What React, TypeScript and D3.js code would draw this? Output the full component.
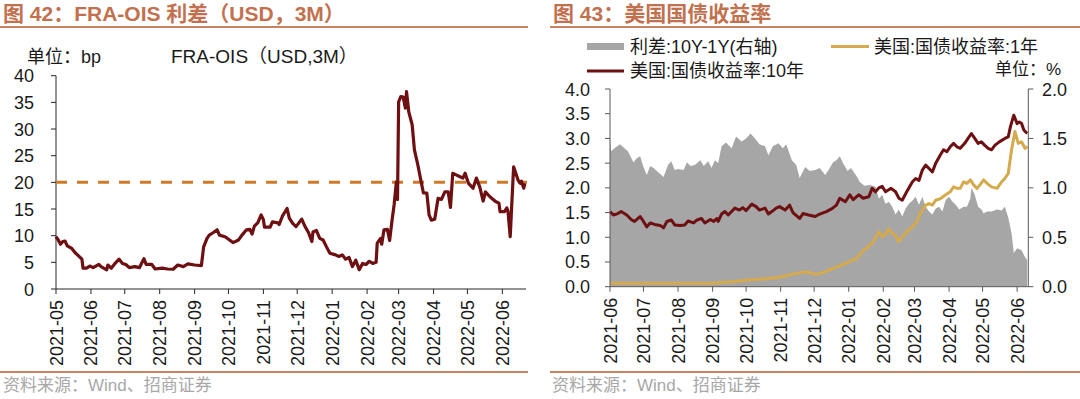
import React, { useEffect, useRef } from 'react'
import * as d3 from 'd3'

// FRA-OIS spread (bp)
const fraOis: [string, number][] = [
  ['2021-05-01', 9.8], ['2021-05-03', 9.2], ['2021-05-05', 8.4], ['2021-05-07', 8.9], ['2021-05-09', 9.0],
  ['2021-05-11', 8.1], ['2021-05-15', 7.6], ['2021-05-18', 6.8], ['2021-05-21', 6.2], ['2021-05-24', 5.6],
  ['2021-05-25', 3.9], ['2021-05-28', 3.9], ['2021-05-31', 4.3], ['2021-06-03', 4.0], ['2021-06-08', 4.6],
  ['2021-06-10', 4.2], ['2021-06-15', 3.6], ['2021-06-16', 4.5], ['2021-06-19', 3.9], ['2021-06-22', 4.7],
  ['2021-06-26', 5.6], ['2021-06-29', 4.8], ['2021-07-02', 4.6], ['2021-07-05', 4.0], ['2021-07-10', 4.2],
  ['2021-07-14', 4.0], ['2021-07-18', 5.7], ['2021-07-20', 4.6], ['2021-07-25', 4.6], ['2021-07-28', 3.75],
  ['2021-08-03', 3.9], ['2021-08-08', 3.75], ['2021-08-13', 3.7], ['2021-08-17', 4.5], ['2021-08-22', 4.2],
  ['2021-08-26', 4.7], ['2021-09-01', 4.5], ['2021-09-07', 4.4], ['2021-09-09', 7.9], ['2021-09-12', 9.5],
  ['2021-09-14', 10.1], ['2021-09-17', 10.5], ['2021-09-21', 11.1], ['2021-09-23', 10.1], ['2021-09-28', 9.8],
  ['2021-10-02', 9.2], ['2021-10-05', 8.7], ['2021-10-10', 9.2], ['2021-10-13', 10.1], ['2021-10-17', 11.1],
  ['2021-10-20', 11.2], ['2021-10-22', 10.3], ['2021-10-24', 11.8], ['2021-10-27', 12.4], ['2021-10-30', 13.9],
  ['2021-11-01', 13.0], ['2021-11-02', 11.6], ['2021-11-07', 11.6], ['2021-11-09', 12.6], ['2021-11-14', 12.4],
  ['2021-11-15', 12.1], ['2021-11-18', 13.7], ['2021-11-22', 15.1], ['2021-11-24', 13.3], ['2021-11-27', 12.3],
  ['2021-11-30', 11.7], ['2021-12-05', 13.1], ['2021-12-08', 11.7], ['2021-12-11', 10.6], ['2021-12-14', 8.9],
  ['2021-12-15', 10.7], ['2021-12-18', 11.0], ['2021-12-21', 9.5], ['2021-12-24', 9.2], ['2021-12-27', 7.9],
  ['2021-12-30', 6.7], ['2022-01-04', 6.4], ['2022-01-07', 6.1], ['2022-01-10', 6.4], ['2022-01-13', 5.6],
  ['2022-01-16', 5.9], ['2022-01-19', 4.2], ['2022-01-22', 5.4], ['2022-01-25', 3.6], ['2022-01-28', 4.8],
  ['2022-01-31', 4.6], ['2022-02-03', 5.2], ['2022-02-06', 4.8], ['2022-02-09', 5.0], ['2022-02-10', 8.6],
  ['2022-02-13', 9.5], ['2022-02-14', 8.4], ['2022-02-16', 11.1], ['2022-02-19', 11.2], ['2022-02-21', 9.1],
  ['2022-02-23', 12.6], ['2022-02-25', 15.8], ['2022-02-27', 20.1], ['2022-02-28', 16.8], ['2022-03-01', 35.1],
  ['2022-03-03', 36.1], ['2022-03-05', 36.0], ['2022-03-07', 33.9], ['2022-03-08', 37.0], ['2022-03-10', 33.2],
  ['2022-03-13', 30.8], ['2022-03-15', 26.1], ['2022-03-18', 23.3], ['2022-03-21', 20.1], ['2022-03-23', 18.0],
  ['2022-03-26', 18.0], ['2022-03-28', 13.9], ['2022-03-30', 12.9], ['2022-04-02', 13.1], ['2022-04-05', 17.0],
  ['2022-04-08', 16.8], ['2022-04-11', 18.2], ['2022-04-14', 18.2], ['2022-04-16', 15.3], ['2022-04-18', 21.7],
  ['2022-04-21', 21.4], ['2022-04-24', 21.1], ['2022-04-27', 20.8], ['2022-04-29', 21.7], ['2022-05-02', 19.8],
  ['2022-05-06', 18.9], ['2022-05-09', 20.8], ['2022-05-12', 19.1], ['2022-05-15', 16.5], ['2022-05-17', 18.2],
  ['2022-05-21', 17.3], ['2022-05-26', 16.4], ['2022-05-29', 16.1], ['2022-05-30', 14.5], ['2022-06-03', 14.5],
  ['2022-06-05', 15.2], ['2022-06-06', 14.6], ['2022-06-08', 9.8], ['2022-06-11', 22.9], ['2022-06-12', 22.3],
  ['2022-06-15', 20.4], ['2022-06-17', 19.8], ['2022-06-18', 20.2], ['2022-06-20', 18.9], ['2022-06-21', 19.8],
]

// US treasury 10Y yield (%)
const ust10y: [string, number][] = [
  ['2021-06-01', 1.52], ['2021-06-04', 1.45], ['2021-06-08', 1.48], ['2021-06-11', 1.52], ['2021-06-16', 1.45],
  ['2021-06-20', 1.36], ['2021-06-23', 1.32], ['2021-06-28', 1.42], ['2021-07-01', 1.32], ['2021-07-04', 1.21],
  ['2021-07-07', 1.29], ['2021-07-11', 1.26], ['2021-07-16', 1.24], ['2021-07-19', 1.19], ['2021-07-22', 1.32],
  ['2021-07-26', 1.35], ['2021-07-29', 1.25], ['2021-08-03', 1.24], ['2021-08-07', 1.25], ['2021-08-10', 1.33],
  ['2021-08-15', 1.29], ['2021-08-18', 1.35], ['2021-08-22', 1.38], ['2021-08-25', 1.29], ['2021-08-30', 1.36],
  ['2021-09-02', 1.32], ['2021-09-05', 1.38], ['2021-09-06', 1.32], ['2021-09-09', 1.47], ['2021-09-12', 1.52],
  ['2021-09-15', 1.45], ['2021-09-18', 1.52], ['2021-09-21', 1.59], ['2021-09-25', 1.55], ['2021-09-28', 1.60],
  ['2021-10-01', 1.54], ['2021-10-06', 1.67], ['2021-10-10', 1.62], ['2021-10-13', 1.55], ['2021-10-18', 1.59],
  ['2021-10-21', 1.47], ['2021-10-24', 1.52], ['2021-10-28', 1.59], ['2021-10-31', 1.62], ['2021-11-05', 1.55],
  ['2021-11-09', 1.65], ['2021-11-12', 1.50], ['2021-11-18', 1.38], ['2021-11-21', 1.48], ['2021-11-26', 1.45],
  ['2021-12-02', 1.42], ['2021-12-06', 1.47], ['2021-12-12', 1.52], ['2021-12-17', 1.58], ['2021-12-21', 1.65],
  ['2021-12-24', 1.79], ['2021-12-29', 1.72], ['2022-01-02', 1.86], ['2022-01-05', 1.76], ['2022-01-10', 1.86],
  ['2022-01-14', 1.79], ['2022-01-19', 1.82], ['2022-01-22', 1.99], ['2022-01-25', 1.92], ['2022-01-28', 2.00],
  ['2022-01-31', 2.03], ['2022-02-03', 1.92], ['2022-02-08', 1.99], ['2022-02-12', 1.92], ['2022-02-15', 1.79],
  ['2022-02-18', 1.75], ['2022-02-22', 1.92], ['2022-02-27', 2.12], ['2022-03-02', 2.19], ['2022-03-05', 2.15],
  ['2022-03-08', 2.36], ['2022-03-11', 2.46], ['2022-03-14', 2.39], ['2022-03-17', 2.32], ['2022-03-20', 2.50],
  ['2022-03-24', 2.66], ['2022-03-27', 2.77], ['2022-03-30', 2.73], ['2022-04-02', 2.83], ['2022-04-05', 2.90],
  ['2022-04-08', 2.83], ['2022-04-11', 2.80], ['2022-04-15', 2.90], ['2022-04-18', 3.00], ['2022-04-21', 3.10],
  ['2022-04-24', 3.00], ['2022-04-27', 2.90], ['2022-04-30', 2.93], ['2022-05-03', 2.86], ['2022-05-06', 2.80],
  ['2022-05-09', 2.77], ['2022-05-12', 2.86], ['2022-05-16', 2.93], ['2022-05-21', 3.00], ['2022-05-24', 3.03],
  ['2022-05-26', 3.24], ['2022-05-29', 3.47], ['2022-06-01', 3.30], ['2022-06-03', 3.33], ['2022-06-05', 3.30],
  ['2022-06-07', 3.17], ['2022-06-10', 3.10],
]

// US treasury 1Y yield (%)
const ust1y: [string, number][] = [
  ['2021-06-01', 0.07], ['2021-07-01', 0.07], ['2021-08-01', 0.07], ['2021-09-01', 0.07], ['2021-09-19', 0.10],
  ['2021-10-04', 0.14], ['2021-10-19', 0.16], ['2021-10-31', 0.19], ['2021-11-09', 0.24], ['2021-11-18', 0.28],
  ['2021-11-26', 0.30], ['2021-11-28', 0.27], ['2021-12-03', 0.25], ['2021-12-11', 0.30], ['2021-12-18', 0.37],
  ['2021-12-26', 0.44], ['2022-01-02', 0.51], ['2022-01-08', 0.57], ['2022-01-13', 0.71], ['2022-01-17', 0.78],
  ['2022-01-22', 0.88], ['2022-01-25', 0.98], ['2022-01-28', 1.11], ['2022-01-31', 1.01], ['2022-02-03', 1.07],
  ['2022-02-06', 1.17], ['2022-02-09', 1.07], ['2022-02-12', 1.04], ['2022-02-15', 0.91], ['2022-02-18', 1.01],
  ['2022-02-22', 1.11], ['2022-02-27', 1.21], ['2022-03-03', 1.31], ['2022-03-06', 1.48], ['2022-03-11', 1.65],
  ['2022-03-14', 1.68], ['2022-03-17', 1.65], ['2022-03-20', 1.75], ['2022-03-24', 1.78], ['2022-03-29', 1.86],
  ['2022-04-02', 1.92], ['2022-04-05', 2.02], ['2022-04-08', 1.99], ['2022-04-11', 1.99], ['2022-04-14', 2.12],
  ['2022-04-17', 2.09], ['2022-04-20', 2.16], ['2022-04-23', 2.06], ['2022-04-26', 1.99], ['2022-04-29', 2.07],
  ['2022-05-02', 2.16], ['2022-05-05', 2.09], ['2022-05-09', 2.02], ['2022-05-14', 1.99], ['2022-05-18', 2.12],
  ['2022-05-21', 2.19], ['2022-05-24', 2.29], ['2022-05-27', 2.77], ['2022-05-30', 3.14], ['2022-06-02', 2.90],
  ['2022-06-05', 2.93], ['2022-06-08', 2.80], ['2022-06-10', 2.84],
]

// spread 10Y-1Y (%, right axis)
const spread: [string, number][] = [
  ['2021-06-01', 1.50], ['2021-06-02', 1.37], ['2021-06-05', 1.40], ['2021-06-10', 1.44], ['2021-06-14', 1.40],
  ['2021-06-17', 1.37], ['2021-06-22', 1.26], ['2021-06-25', 1.30], ['2021-06-28', 1.32], ['2021-07-01', 1.21],
  ['2021-07-04', 1.13], ['2021-07-07', 1.22], ['2021-07-10', 1.20], ['2021-07-14', 1.16], ['2021-07-19', 1.11],
  ['2021-07-23', 1.23], ['2021-07-26', 1.27], ['2021-07-29', 1.18], ['2021-08-01', 1.19], ['2021-08-06', 1.18],
  ['2021-08-09', 1.26], ['2021-08-12', 1.22], ['2021-08-16', 1.23], ['2021-08-21', 1.28], ['2021-08-24', 1.22],
  ['2021-08-28', 1.27], ['2021-08-31', 1.20], ['2021-09-03', 1.28], ['2021-09-06', 1.25], ['2021-09-09', 1.42],
  ['2021-09-13', 1.46], ['2021-09-18', 1.40], ['2021-09-22', 1.52], ['2021-09-27', 1.47], ['2021-10-01', 1.50],
  ['2021-10-05', 1.55], ['2021-10-09', 1.50], ['2021-10-13', 1.44], ['2021-10-18', 1.42], ['2021-10-21', 1.33],
  ['2021-10-25', 1.42], ['2021-10-30', 1.45], ['2021-11-03', 1.40], ['2021-11-06', 1.44], ['2021-11-11', 1.28],
  ['2021-11-15', 1.23], ['2021-11-18', 1.10], ['2021-11-23', 1.21], ['2021-11-27', 1.17], ['2021-12-02', 1.18],
  ['2021-12-06', 1.20], ['2021-12-11', 1.13], ['2021-12-15', 1.20], ['2021-12-18', 1.26], ['2021-12-21', 1.28],
  ['2021-12-24', 1.32], ['2021-12-27', 1.25], ['2021-12-31', 1.17], ['2022-01-03', 1.20], ['2022-01-08', 1.12],
  ['2022-01-11', 1.06], ['2022-01-15', 1.02], ['2022-01-20', 1.03], ['2022-01-25', 1.01], ['2022-01-28', 0.89],
  ['2022-01-31', 0.93], ['2022-02-03', 0.84], ['2022-02-06', 0.86], ['2022-02-09', 0.81], ['2022-02-12', 0.73],
  ['2022-02-15', 0.78], ['2022-02-18', 0.71], ['2022-02-21', 0.79], ['2022-02-24', 0.84], ['2022-02-27', 0.87],
  ['2022-03-02', 0.91], ['2022-03-05', 0.83], ['2022-03-08', 0.91], ['2022-03-11', 0.81], ['2022-03-14', 0.76],
  ['2022-03-17', 0.73], ['2022-03-20', 0.79], ['2022-03-23', 0.81], ['2022-03-26', 0.76], ['2022-03-29', 0.88],
  ['2022-04-01', 0.91], ['2022-04-04', 0.86], ['2022-04-07', 0.83], ['2022-04-10', 0.78], ['2022-04-14', 0.81],
  ['2022-04-17', 0.81], ['2022-04-20', 0.89], ['2022-04-21', 1.00], ['2022-04-24', 0.93], ['2022-04-27', 0.81],
  ['2022-04-30', 0.78], ['2022-05-02', 0.74], ['2022-05-05', 0.76], ['2022-05-09', 0.76], ['2022-05-14', 0.78],
  ['2022-05-18', 0.77], ['2022-05-21', 0.81], ['2022-05-24', 0.70], ['2022-05-27', 0.54], ['2022-05-29', 0.34],
  ['2022-06-01', 0.39], ['2022-06-05', 0.37], ['2022-06-08', 0.30], ['2022-06-10', 0.27],
]

const fraTicks = [0, 5, 10, 15, 20, 25, 30, 35, 40]
const yieldTicks = [0, 0.5, 1, 1.5, 2, 2.5, 3, 3.5, 4]
const spreadTicks = [0, 0.5, 1, 1.5, 2]
const fraThreshold = 20

const FONT = '"Liberation Sans", Arial, "Noto Sans CJK SC", sans-serif'
const TITLE_COLOR = '#c2714f'
const RULE_COLOR = '#c98360'
const DARK_RED = '#6e0f12'
const GOLD = '#d5aa4c'
const GREY = '#a6a6a6'

const parse = d3.timeParse('%Y-%m-%d')

export default function App() {
  const svgRef = useRef<SVGSVGElement>(null)

  useEffect(() => {
    if (!svgRef.current) return
    const svg = d3.select(svgRef.current)
    svg.selectAll('*').remove()
    svg.style('font-family', FONT)

    const txt = (x: number, y: number, s: string, size: number, opts: any = {}) => {
      const t = svg.append('text')
        .attr('x', x).attr('y', y)
        .attr('font-size', size)
        .attr('fill', opts.fill || '#1a1a1a')
        .attr('text-anchor', opts.anchor || 'start')
        .text(s)
      if (opts.bold) t.attr('font-weight', 'bold')
      return t
    }

    // headers, rules, sources
    txt(3, 21, '图 42：FRA-OIS 利差（USD，3M）', 21, { fill: TITLE_COLOR, bold: true })
    txt(553, 21, '图 43：美国国债收益率', 21, { fill: TITLE_COLOR, bold: true })
    const rules: [number, number, number][] = [[0, 528, 27], [550, 1080, 27], [0, 528, 372], [550, 1080, 372]]
    rules.forEach(([x1, x2, y]) => {
      svg.append('line').attr('x1', x1).attr('x2', x2).attr('y1', y).attr('y2', y)
        .attr('stroke', RULE_COLOR).attr('stroke-width', 2)
    })
    txt(3, 391, '资料来源：Wind、招商证券', 17, { fill: '#a8a8a8' })
    txt(552, 391, '资料来源：Wind、招商证券', 17, { fill: '#a8a8a8' })

    const monthLabels = (x: d3.ScaleTime<number, number>, from: string, to: string, axisY: number, color: string) => {
      const months = d3.timeMonth.range(parse(from)!, parse(to)!)
      const fmt = d3.timeFormat('%Y-%m')
      months.forEach(m => {
        const px = x(m)
        svg.append('line').attr('x1', px).attr('x2', px).attr('y1', axisY).attr('y2', axisY + 5)
          .attr('stroke', color).attr('stroke-width', 1)
        svg.append('text')
          .attr('transform', `translate(${px + 6.5},${axisY + 11}) rotate(-90)`)
          .attr('text-anchor', 'end')
          .attr('font-size', 18)
          .attr('fill', '#1a1a1a')
          .text(fmt(m))
      })
    }

    // ---------- left: FRA-OIS ----------
    {
      const x = d3.scaleTime().domain([parse('2021-05-01')!, parse('2022-06-22')!]).range([56, 526])
      const y = d3.scaleLinear().domain([0, 40]).range([289, 75.7])
      const axisColor = '#262626'

      txt(27, 63, '单位：bp', 18)
      txt(171, 63, 'FRA-OIS（USD,3M）', 19)

      svg.append('line').attr('x1', 56).attr('x2', 56).attr('y1', y(40)).attr('y2', y(0))
        .attr('stroke', axisColor)
      fraTicks.forEach(t => {
        svg.append('line').attr('x1', 51).attr('x2', 56).attr('y1', y(t)).attr('y2', y(t)).attr('stroke', axisColor)
        txt(34, y(t) + 6.5, String(t), 18, { anchor: 'end' })
      })
      svg.append('line').attr('x1', 56).attr('x2', 526).attr('y1', y(0)).attr('y2', y(0)).attr('stroke', axisColor)
      monthLabels(x, '2021-05-01', '2022-06-02', y(0), axisColor)

      svg.append('line')
        .attr('x1', 56).attr('x2', 527)
        .attr('y1', y(fraThreshold)).attr('y2', y(fraThreshold))
        .attr('stroke', '#cf7a2a').attr('stroke-width', 3).attr('stroke-dasharray', '11 10')

      const line = d3.line<[string, number]>()
        .x(d => x(parse(d[0])!))
        .y(d => y(d[1]))
      svg.append('path').datum(fraOis).attr('d', line)
        .attr('fill', 'none').attr('stroke', DARK_RED).attr('stroke-width', 3.2).attr('stroke-linejoin', 'round')
    }

    // ---------- right: US treasury yields ----------
    {
      const x = d3.scaleTime().domain([parse('2021-06-01')!, parse('2022-06-11')!]).range([610, 1028.3])
      const yL = d3.scaleLinear().domain([0, 4]).range([286.7, 89])
      const yR = d3.scaleLinear().domain([0, 2]).range([286.7, 89])
      const axisColor = '#595959'

      // legend
      svg.append('rect').attr('x', 587).attr('y', 43).attr('width', 37).attr('height', 7).attr('fill', GREY)
      txt(630, 53, '利差:10Y-1Y(右轴)', 18)
      svg.append('line').attr('x1', 831).attr('x2', 869).attr('y1', 46.5).attr('y2', 46.5)
        .attr('stroke', GOLD).attr('stroke-width', 3)
      txt(874, 53, '美国:国债收益率:1年', 18)
      svg.append('line').attr('x1', 587).attr('x2', 624).attr('y1', 71).attr('y2', 71)
        .attr('stroke', DARK_RED).attr('stroke-width', 3)
      txt(630, 77, '美国:国债收益率:10年', 18)
      txt(995, 75, '单位：%', 17)

      const area = d3.area<[string, number]>()
        .x(d => x(parse(d[0])!))
        .y0(yR(0))
        .y1(d => yR(d[1]))
      svg.append('path').datum(spread).attr('d', area).attr('fill', GREY)

      const l1 = d3.line<[string, number]>().x(d => x(parse(d[0])!)).y(d => yL(d[1]))
      svg.append('path').datum(ust1y).attr('d', l1)
        .attr('fill', 'none').attr('stroke', GOLD).attr('stroke-width', 3).attr('stroke-linejoin', 'round')
      svg.append('path').datum(ust10y).attr('d', l1)
        .attr('fill', 'none').attr('stroke', DARK_RED).attr('stroke-width', 3).attr('stroke-linejoin', 'round')

      svg.append('line').attr('x1', 610).attr('x2', 610).attr('y1', yL(4)).attr('y2', yL(0)).attr('stroke', axisColor)
      yieldTicks.forEach(t => {
        svg.append('line').attr('x1', 605).attr('x2', 610).attr('y1', yL(t)).attr('y2', yL(t)).attr('stroke', axisColor)
        txt(590, yL(t) + 6.5, d3.format('.1f')(t), 18, { anchor: 'end' })
      })
      svg.append('line').attr('x1', 1028.3).attr('x2', 1028.3).attr('y1', yR(2)).attr('y2', yR(0)).attr('stroke', axisColor)
      spreadTicks.forEach(t => {
        svg.append('line').attr('x1', 1028.3).attr('x2', 1033.3).attr('y1', yR(t)).attr('y2', yR(t)).attr('stroke', axisColor)
        txt(1042, yR(t) + 6.5, d3.format('.1f')(t), 18)
      })
      svg.append('line').attr('x1', 610).attr('x2', 1028.3).attr('y1', yL(0)).attr('y2', yL(0)).attr('stroke', axisColor)
      monthLabels(x, '2021-06-01', '2022-06-02', yL(0), axisColor)
    }
  }, [])

  return (
    <svg
      ref={svgRef}
      width={1080}
      height={399}
      style={{ position: 'absolute', left: 0, top: 0, background: '#fff' }}
    />
  )
}
